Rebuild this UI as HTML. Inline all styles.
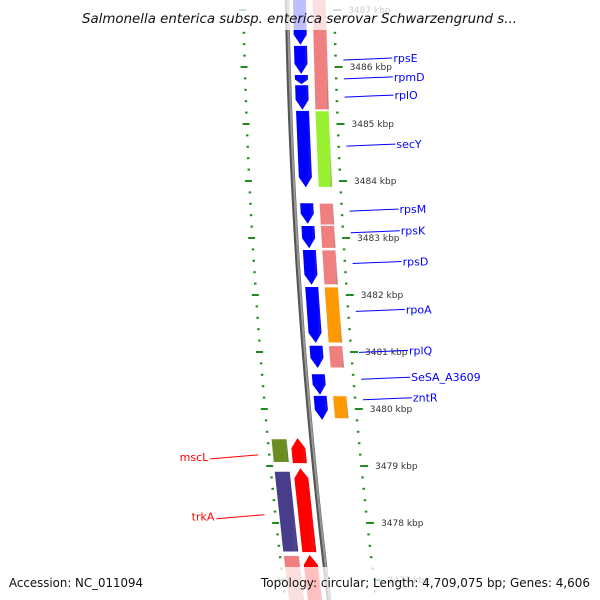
<!DOCTYPE html>
<html><head><meta charset="utf-8"><style>
html,body{margin:0;padding:0;background:#fff;}
svg{display:block;font-family:"DejaVu Sans","Liberation Sans",sans-serif;}
</style></head><body>
<svg id="c" width="600" height="600" viewBox="0 0 600 600">
<defs>
<linearGradient id="shade" x1="0" x2="1" y1="0" y2="0"><stop offset="0" stop-color="#fff" stop-opacity="0"/><stop offset="0.75" stop-color="#fff" stop-opacity="0"/><stop offset="1" stop-color="#000" stop-opacity="0.25"/></linearGradient>
</defs>
<g id="g"></g>
</svg>
<script>
// data (positions in kbp)
const fwdNames=['g1','g2','rpmD','rplO','secY','rpsM','rpsK','rpsD','rpoA','rplQ','SeSA_A3609','zntR'];
const fwdStart=[3487.3,3486.37,3485.86,3485.68,3485.23,3483.61,3483.21,3482.79,3482.14,3481.11,3480.61,3480.23];
const fwdEnd=[3486.39,3485.88,3485.70,3485.25,3483.89,3483.25,3482.82,3482.18,3481.16,3480.72,3480.25,3479.81];
const ringStart=[3487.3,3485.23,3483.61,3483.22,3482.79,3482.14,3481.11,3480.23];
const ringEnd=[3485.25,3483.89,3483.23,3482.82,3482.18,3481.16,3480.72,3479.83];
const ringColors=['#f08080','#99f030','#f08080','#f08080','#f08080','#ff9900','#f08080','#ff9900'];
const revStart=[3479.49,3478.96,3477.44];
const revEnd=[3479.05,3477.49,3476.5];
const revColors=['#ff0000','#ff0000','#ff0000'];
const rev2Start=[3479.47,3478.9,3477.42];
const rev2End=[3479.07,3477.5,3476.5];
const rev2Colors=['#6b8e23','#483d8b','#f08080'];
const kbpTicks=[3487,3486,3485,3484,3483,3482,3481,3480,3479,3478,3477];
const labelNames=['rpsE','rpmD','rplO','secY','rpsM','rpsK','rpsD','rpoA','rplQ','SeSA_A3609','zntR'];
const labelPos=[3486.14,3485.81,3485.49,3484.63,3483.49,3483.11,3482.57,3481.73,3481.01,3480.54,3480.18];
const revLabels=['mscL','trkA'];
const revLabelPos=[3479.16,3478.11];

const NS='http://www.w3.org/2000/svg';
const g=document.getElementById('g');
const Y=p=>10+(3487-p)*57;
const X=y=>287+0.0175*y+8.75e-5*y*y;
function el(t,a,parent){const e=document.createElementNS(NS,t);for(const k in a)e.setAttribute(k,a[k]);(parent||g).appendChild(e);return e;}
function band(p1,p2,o1,o2,arrow,dir){
  const y1=Y(p1),y2=Y(p2);const pts=[];
  const ah=Math.min(10,(y2-y1)/2);
  if(arrow&&dir>0){
    pts.push([X(y1)+o1,y1],[X(y1)+o2,y1],[X(y2-ah)+o2,y2-ah],[X(y2)+(o1+o2)/2,y2],[X(y2-ah)+o1,y2-ah]);
  }else if(arrow&&dir<0){
    pts.push([X(y1+ah)+o1,y1+ah],[X(y1)+(o1+o2)/2,y1],[X(y1+ah)+o2,y1+ah],[X(y2)+o2,y2],[X(y2)+o1,y2]);
  }else{
    pts.push([X(y1)+o1,y1],[X(y1)+o2,y1],[X(y2)+o2,y2],[X(y2)+o1,y2]);
  }
  return pts.map(p=>p.join(',')).join(' ');
}
// left dotted scale
for(let p=3487.6;p>=3476.3;p-=0.2){
  const y=Y(p);const big=Math.abs(Math.round(p)-p)<0.01;
  const d=el('rect',{x:X(y)-45-(big?3:0),y:y-1,width:big?7:2.5,height:2,fill:'#228b22'});
  
  
}
// right scale
for(let p=3487.6;p>=3476.3;p-=0.2){
  const y=Y(p);const big=Math.abs(Math.round(p)-p)<0.01;
  const d=el('rect',{x:X(y)+46,y:y-1,width:big?8:2.5,height:2,fill:'#228b22'});
  
  
}
kbpTicks.forEach(k=>{const y=Y(k);
  const t=el('text',{x:X(y)+61,y:y+3,'font-size':9,fill:'#333'});t.textContent=k+' kbp';
  
  
});
// backbone
{let d='';for(let y=-5;y<=605;y+=5)d+=(y<0?'M':'L')+X(y)+','+y;
 const b=el('path',{d:d,stroke:'#555',fill:'none','stroke-width':4.5});
 
 
 el('path',{d:d,stroke:'#999',fill:'none','stroke-width':2,transform:'translate(0.8,0)'});}
// ring features
ringStart.forEach((s,i)=>{const e=el('polygon',{points:band(s,ringEnd[i],25,39,false),fill:ringColors[i],stroke:'#fff','stroke-width':0.8});
  
  
  el('polygon',{points:band(s,ringEnd[i],25,39,false),fill:'url(#shade)'});});
fwdStart.forEach((s,i)=>{const e=el('polygon',{points:band(s,fwdEnd[i],6,19,true,1),fill:'#0000ff'});
  
  
  el('polygon',{points:band(s,fwdEnd[i],6,19,true,1),fill:'url(#shade)'});});
rev2Start.forEach((s,i)=>{const e=el('polygon',{points:band(s,rev2End[i],-40,-25,false),fill:rev2Colors[i]});
  
  
  el('polygon',{points:band(s,rev2End[i],-40,-25,false),fill:'url(#shade)'});});
revStart.forEach((s,i)=>{const e=el('polygon',{points:band(s,revEnd[i],-21,-7,true,-1),fill:revColors[i]});
  
  
  el('polygon',{points:band(s,revEnd[i],-21,-7,true,-1),fill:'url(#shade)'});});
// labels
labelNames.forEach((n,i)=>{const y=Y(labelPos[i]);const x0=X(y)+55;const x1=X(y)+104;
  el('line',{x1:x0,y1:y+1,x2:x1,y2:y-1,stroke:'#0000ff','stroke-width':1});
  const t=el('text',{x:x1+1,y:y+3,'font-size':11,fill:'#0000ff'});t.textContent=n;
  
  });
revLabels.forEach((n,i)=>{const y=Y(revLabelPos[i]);const x1=X(y)-55;const x0=X(y)-103;
  el('line',{x1:x0,y1:y+2,x2:x1,y2:y-2,stroke:'#ff0000','stroke-width':1});
  const t=el('text',{x:x0-2,y:y+4,'font-size':11,fill:'#ff0000','text-anchor':'end'});t.textContent=n;
  
  });
// overlays
el('rect',{x:0,y:0,width:600,height:30,fill:'#fff','fill-opacity':0.75});
el('rect',{x:0,y:567,width:600,height:33,fill:'#fff','fill-opacity':0.75});
const tt=el('text',{x:82,y:23,'font-size':13,'font-style':'italic',fill:'#111',textLength:435,lengthAdjust:'spacingAndGlyphs'});
tt.textContent='Salmonella enterica subsp. enterica serovar Schwarzengrund s...';


const a=el('text',{x:9,y:587,'font-size':12,fill:'#111',textLength:134,lengthAdjust:'spacingAndGlyphs'});a.textContent='Accession: NC_011094';


const tp=el('text',{x:261,y:587,'font-size':12,fill:'#111',textLength:329,lengthAdjust:'spacingAndGlyphs'});tp.textContent='Topology: circular; Length: 4,709,075 bp; Genes: 4,606';


</script>
</body></html>
